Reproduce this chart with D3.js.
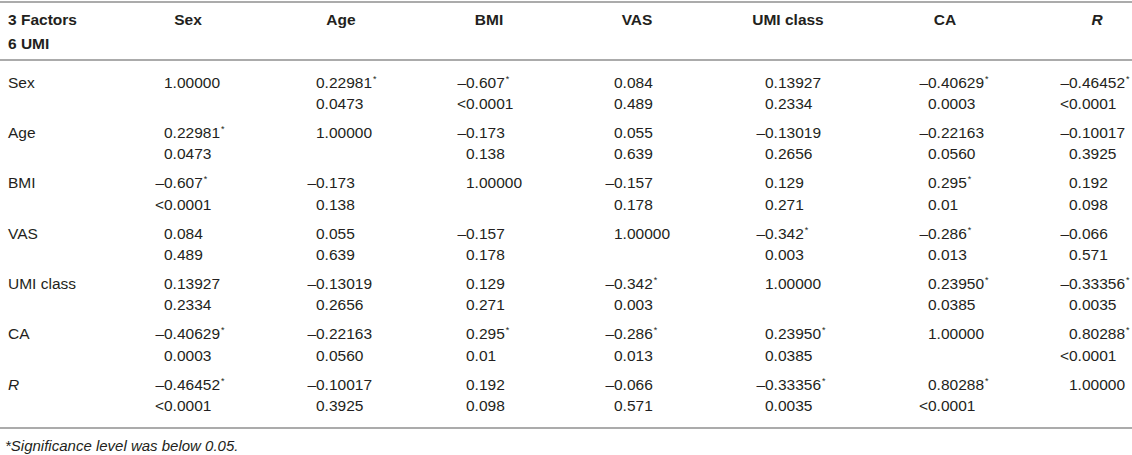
<!DOCTYPE html>
<html>
<head>
<meta charset="utf-8">
<script src="https://cdn.jsdelivr.net/npm/d3@7"></script>
<style>
  html, body { margin: 0; padding: 0; background: #fff; }
  svg { display: block; font-family: "Liberation Sans", Arial, Helvetica, sans-serif; }
</style>
</head>
<body>
<svg id="chart" width="1132" height="455"></svg>
<script>
// ---- data ----
const categories = ["Sex", "Age", "BMI", "VAS", "UMI class", "CA", "R"];
const headerTitle = ["3 Factors", "6 UMI"];
// correlation coefficients (text as printed), row by row
const rSex      = ["1.00000", "0.22981", "–0.607", "0.084", "0.13927", "–0.40629", "–0.46452"];
const rAge      = ["0.22981", "1.00000", "–0.173", "0.055", "–0.13019", "–0.22163", "–0.10017"];
const rBMI      = ["–0.607", "–0.173", "1.00000", "–0.157", "0.129", "0.295", "0.192"];
const rVAS      = ["0.084", "0.055", "–0.157", "1.00000", "–0.342", "–0.286", "–0.066"];
const rUMI      = ["0.13927", "–0.13019", "0.129", "–0.342", "1.00000", "0.23950", "–0.33356"];
const rCA       = ["–0.40629", "–0.22163", "0.295", "–0.286", "0.23950", "1.00000", "0.80288"];
const rR        = ["–0.46452", "–0.10017", "0.192", "–0.066", "–0.33356", "0.80288", "1.00000"];
// p values (empty on the diagonal)
const pSex      = ["", "0.0473", "<0.0001", "0.489", "0.2334", "0.0003", "<0.0001"];
const pAge      = ["0.0473", "", "0.138", "0.639", "0.2656", "0.0560", "0.3925"];
const pBMI      = ["<0.0001", "0.138", "", "0.178", "0.271", "0.01", "0.098"];
const pVAS      = ["0.489", "0.639", "0.178", "", "0.003", "0.013", "0.571"];
const pUMI      = ["0.2334", "0.2656", "0.271", "0.003", "", "0.0385", "0.0035"];
const pCA       = ["0.0003", "0.0560", "0.01", "0.013", "0.0385", "", "<0.0001"];
const pR        = ["<0.0001", "0.3925", "0.098", "0.571", "0.0035", "<0.0001", ""];
// significance flags (p < 0.05, off-diagonal)
const sigSex    = [0, 1, 1, 0, 0, 1, 1];
const sigAge    = [1, 0, 0, 0, 0, 0, 0];
const sigBMI    = [1, 0, 0, 0, 0, 1, 0];
const sigVAS    = [0, 0, 0, 0, 1, 1, 0];
const sigUMI    = [0, 0, 0, 1, 0, 1, 1];
const sigCA     = [1, 0, 1, 1, 1, 0, 1];
const sigR      = [1, 0, 0, 0, 1, 1, 0];
const footnote = "*Significance level was below 0.05.";

const rRows = [rSex, rAge, rBMI, rVAS, rUMI, rCA, rR];
const pRows = [pSex, pAge, pBMI, pVAS, pUMI, pCA, pR];
const sigRows = [sigSex, sigAge, sigBMI, sigVAS, sigUMI, sigCA, sigR];

// ---- layout ----
const W = 1132, H = 455;
const svg = d3.select("#chart");
const FS = 15.5;
const lineColor = "#ababab";
const textColor = "#231f20";

// column header centres and value anchors (left edge of the leading digit)
const xHead = d3.scaleOrdinal().domain(categories).range([188, 341, 489, 637, 788, 945, 1097]);
const xVal  = d3.scaleOrdinal().domain(categories).range([164, 316, 466, 614, 765, 928, 1069]);
const y = d3.scalePoint().domain(categories).range([82, 384]);
const line2 = 21.5;

// rules
const rules = [2, 60, 428];
svg.selectAll("line.rule").data(rules).join("line")
  .attr("class", "rule")
  .attr("x1", 0).attr("x2", W)
  .attr("y1", d => d).attr("y2", d => d)
  .attr("stroke", lineColor).attr("stroke-width", 2);

// header
svg.selectAll("text.htitle").data(headerTitle).join("text")
  .attr("class", "htitle")
  .attr("x", 8).attr("y", (d, i) => 25 + i * 24)
  .attr("font-size", FS).attr("font-weight", "bold").attr("fill", textColor)
  .text(d => d);

svg.selectAll("text.hcol").data(categories).join("text")
  .attr("class", "hcol")
  .attr("x", d => xHead(d)).attr("y", 25)
  .attr("text-anchor", "middle")
  .attr("font-size", FS).attr("font-weight", "bold")
  .attr("font-style", d => d === "R" ? "italic" : "normal")
  .attr("fill", textColor)
  .text(d => d);

// row labels
svg.selectAll("text.rlab").data(categories).join("text")
  .attr("class", "rlab")
  .attr("x", 8).attr("y", d => y(d) + 5.5)
  .attr("font-size", FS)
  .attr("font-style", d => d === "R" ? "italic" : "normal")
  .attr("fill", textColor)
  .text(d => d);

// cells
const cells = [];
categories.forEach((rowCat, i) => {
  categories.forEach((colCat, j) => {
    cells.push({ row: rowCat, col: colCat, r: rRows[i][j], p: pRows[i][j], sig: sigRows[i][j] });
  });
});

// measure prefix widths so signs hang to the left of the leading digit
const measurer = svg.append("text").attr("font-size", FS).attr("visibility", "hidden");
function prefixWidth(s) {
  const m = s.match(/^[–<]/);
  if (!m) return 0;
  measurer.text(m[0]);
  return measurer.node().getComputedTextLength();
}

const g = svg.append("g");
cells.forEach(c => {
  const ax = xVal(c.col);
  const yy = y(c.row) + 5.5;
  const t = g.append("text")
    .attr("x", ax - prefixWidth(c.r)).attr("y", yy)
    .attr("font-size", FS).attr("fill", textColor);
  t.append("tspan").text(c.r);
  if (c.sig) {
    t.append("tspan").attr("dx", 1).attr("dy", -6).attr("font-size", 9).text("*");
  }
  if (c.p) {
    g.append("text")
      .attr("x", ax - prefixWidth(c.p)).attr("y", yy + line2)
      .attr("font-size", FS).attr("fill", textColor)
      .text(c.p);
  }
});
measurer.remove();

// footnote
svg.append("text")
  .attr("x", 5).attr("y", 451)
  .attr("font-size", 15).attr("font-style", "italic").attr("fill", textColor)
  .text(footnote);
</script>
</body>
</html>
